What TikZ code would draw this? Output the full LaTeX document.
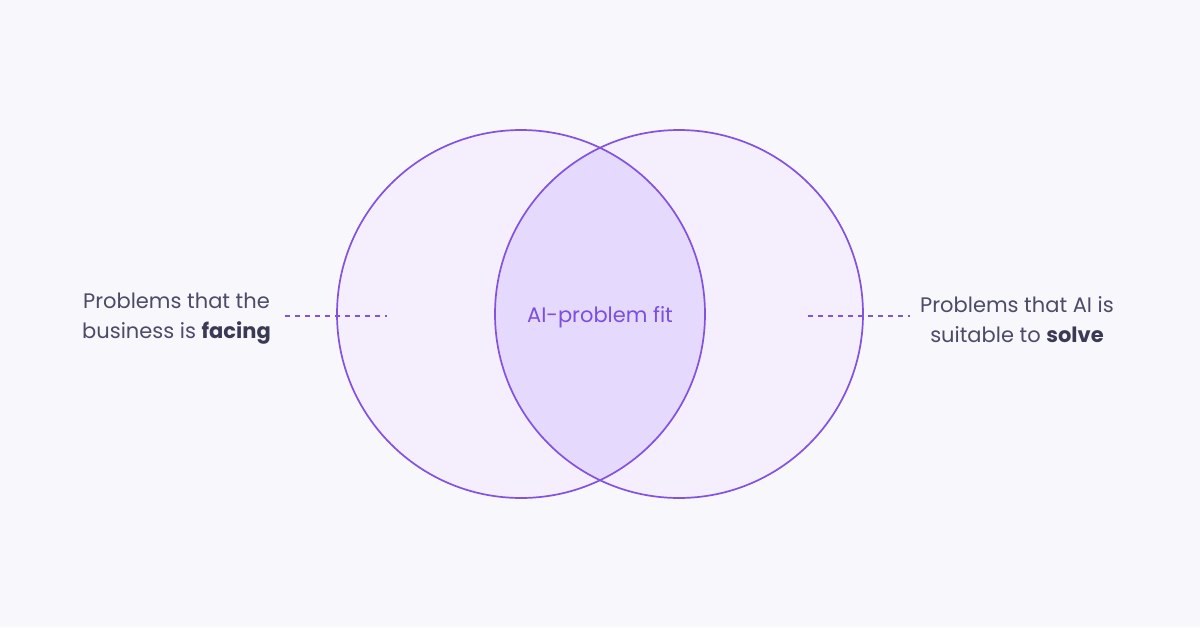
\documentclass[tikz,border=0pt]{standalone}
\usepackage{fontspec}
\setmainfont{Poppins}
\usetikzlibrary{positioning}
\definecolor{bgpage}{HTML}{F7F7FC}
\definecolor{ringline}{HTML}{8352E0}
\definecolor{ringfill}{HTML}{F4EEFD}
\definecolor{overlapfill}{HTML}{E5DAFD}
\definecolor{labeltext}{HTML}{4C4B68}
\definecolor{labelbold}{HTML}{3B3A55}
\definecolor{fittext}{HTML}{7C4FE0}
\tikzset{
  ring edge/.style={draw=ringline,line width=1.7pt},
  leader/.style={ringline,line width=1.3pt,dash pattern=on 5pt off 5pt},
  side label/.style={text=labeltext,font=\fontsize{21}{30}\selectfont,align=center,inner sep=0pt},
  fit label/.style={text=fittext,font=\fontsize{21}{26}\selectfont,inner sep=0pt}
}
\newcommand\ringR{184}
\begin{document}
\begin{tikzpicture}[x=1pt,y=-1pt]
  % ------- page -------
  \fill[bgpage] (0,0) rectangle (1200,627);
  \useasboundingbox (0,0) rectangle (1200,627);

  % ------- circles -------
  \coordinate (L) at (521,314);
  \coordinate (R) at (679,314);
  \fill[ringfill] (L) circle[radius=\ringR];
  \fill[ringfill] (R) circle[radius=\ringR];
  \begin{scope}
    \clip (L) circle[radius=\ringR];
    \fill[overlapfill] (R) circle[radius=\ringR];
  \end{scope}

  % ------- leaders -------
  \coordinate (L-in) at (387,316);
  \coordinate (L-out) at (285,316);
  \coordinate (R-in) at (808,316);
  \coordinate (R-out) at (910,316);
  \draw[leader] (L-out) -- (L-in);
  \draw[leader] (R-in) -- (R-out);

  \draw[ring edge] (L) circle[radius=\ringR];
  \draw[ring edge] (R) circle[radius=\ringR];

  % ------- labels -------
  \node[fit label] (fit) at (600,317) {AI-problem fit};
  \node[side label,left=14pt of L-out,yshift=-3pt] (business)
    {Problems that the\\business is \textbf{\color{labelbold}facing}};
  \node[side label,right=10pt of R-out,yshift=-4pt] (ai)
    {Problems that AI is\\suitable to \textbf{\color{labelbold}solve}};
\end{tikzpicture}
\end{document}
